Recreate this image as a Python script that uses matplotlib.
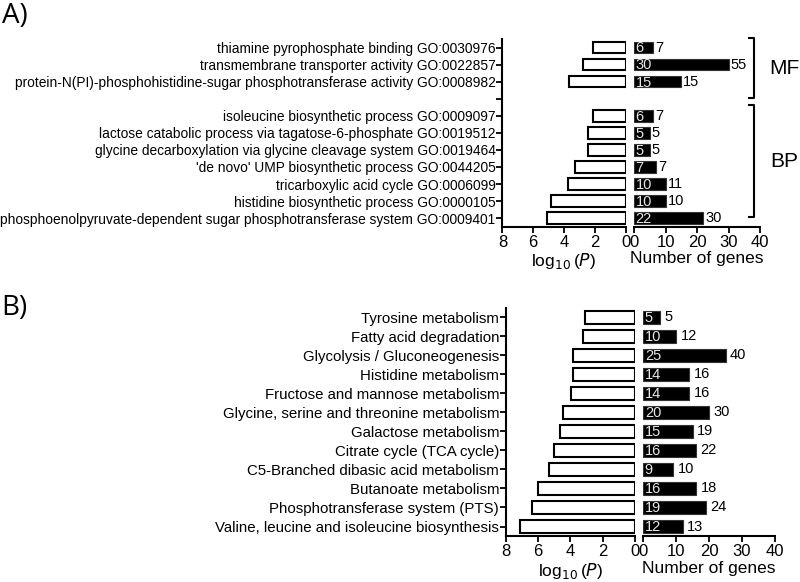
import matplotlib
matplotlib.use("Agg")
import matplotlib.pyplot as plt

plt.rcParams['font.family'] = ['Liberation Sans', 'DejaVu Sans']

# panel A, GO terms
mf_terms = ["thiamine pyrophosphate binding GO:0030976",
            "transmembrane transporter activity GO:0022857",
            "protein-N(PI)-phosphohistidine-sugar phosphotransferase activity GO:0008982"]
mf_logp = [2.1, 2.77, 3.68]
mf_hits = [6, 30, 15]
mf_total = [7, 55, 15]

bp_terms = ["isoleucine biosynthetic process GO:0009097",
            "lactose catabolic process via tagatose-6-phosphate GO:0019512",
            "glycine decarboxylation via glycine cleavage system GO:0019464",
            "'de novo' UMP biosynthetic process GO:0044205",
            "tricarboxylic acid cycle GO:0006099",
            "histidine biosynthetic process GO:0000105",
            "phosphoenolpyruvate-dependent sugar phosphotransferase system GO:0009401"]
bp_logp = [2.1, 2.42, 2.42, 3.3, 3.77, 4.85, 5.1]
bp_hits = [6, 5, 5, 7, 10, 10, 22]
bp_total = [7, 5, 5, 7, 11, 10, 30]

# panel B, KEGG pathways
kegg_terms = ["Tyrosine metabolism", "Fatty acid degradation",
              "Glycolysis / Gluconeogenesis", "Histidine metabolism",
              "Fructose and mannose metabolism",
              "Glycine, serine and threonine metabolism",
              "Galactose metabolism", "Citrate cycle (TCA cycle)",
              "C5-Branched dibasic acid metabolism", "Butanoate metabolism",
              "Phosphotransferase system (PTS)",
              "Valine, leucine and isoleucine biosynthesis"]
kegg_logp = [3.1, 3.24, 3.82, 3.86, 3.97, 4.48, 4.63, 5.0, 5.31, 6.01, 6.38, 7.13]
kegg_hits = [5, 10, 25, 14, 14, 20, 15, 16, 9, 16, 19, 12]
kegg_total = [5, 12, 40, 16, 16, 30, 19, 22, 10, 18, 24, 13]


def style(ax, left_spine, ysize):
    for s in ["top", "right"]:
        ax.spines[s].set_visible(False)
    ax.spines["left"].set_visible(left_spine)
    for s in ["left", "bottom"]:
        ax.spines[s].set_linewidth(1.5)
    ax.tick_params(axis="x", length=4, width=1.3, labelsize=12, pad=2)
    ax.tick_params(axis="y", length=4, width=1.3, labelsize=ysize, pad=1)


def draw_pair(axl, axr, pos, ticks, ticklabels, logp, hits, total, off, ysize):
    n = len(ticks)
    axl.barh(pos, logp, height=0.68, color="white", edgecolor="black", linewidth=1.5)
    axl.set_xlim(8, 0)
    axl.set_ylim(n - 0.5, -0.5)
    axl.set_xticks([8, 6, 4, 2, 0])
    axl.set_yticks(ticks)
    axl.set_yticklabels(ticklabels)
    axl.set_xlabel(r"log$_{10}$$\,$($\it{P}$)", fontsize=12.5, labelpad=1)
    style(axl, True, ysize)

    axr.barh(pos, hits, height=0.68, color="black", edgecolor="#333333", linewidth=0.8)
    axr.set_xlim(0, 40)
    axr.set_ylim(n - 0.5, -0.5)
    axr.set_xticks([0, 10, 20, 30, 40])
    axr.set_yticks([])
    axr.set_xlabel("Number of genes", fontsize=12.5, labelpad=1)
    style(axr, False, ysize)
    for y, h, t in zip(pos, hits, total):
        axr.text(0.5, y + 0.05, str(h), color="#e6e6e6", fontsize=10.5,
                 va="center", ha="left")
        axr.text(h + off, y, str(t), color="black", fontsize=10.5,
                 va="center", ha="left")


fig = plt.figure(figsize=(8, 5.82), dpi=100)

# panel A
a_terms = mf_terms + [""] + bp_terms
a_pos = list(range(len(mf_terms))) + list(range(len(mf_terms) + 1, len(a_terms)))
axl = fig.add_axes([0.628, 0.6105, 0.154, 0.3225])
axr = fig.add_axes([0.7925, 0.6105, 0.1575, 0.3225])
draw_pair(axl, axr, a_pos, list(range(len(a_terms))), a_terms,
          mf_logp + bp_logp, mf_hits + bp_hits, mf_total + bp_total, 0.6, 9.9)

# brackets for MF / BP
bx = 38
n_mf = len(mf_terms)
for top, bot, name in [(-0.58, n_mf - 0.02, "MF"),
                       (n_mf + 0.35, len(a_terms) - 1.06, "BP")]:
    axr.plot([bx - 1.4, bx, bx, bx - 1.4], [top, top, bot, bot],
             color="black", lw=1.5, clip_on=False)
    axr.text(bx + 9.8, (top + bot) / 2 + 0.05, name, fontsize=15,
             ha="center", va="center")

# panel B
b_pos = list(range(len(kegg_terms)))
bxl = fig.add_axes([0.6325, 0.079, 0.161, 0.3923])
bxr = fig.add_axes([0.804, 0.079, 0.1646, 0.3923])
draw_pair(bxl, bxr, b_pos, b_pos, kegg_terms,
          kegg_logp, kegg_hits, kegg_total, 1.4, 10.85)

fig.text(0.002, 0.997, "A)", fontsize=20, family="Open Sans", va="top", ha="left")
fig.text(0.002, 0.495, "B)", fontsize=20, family="Open Sans", va="top", ha="left")

fig.savefig("out.png", dpi=100)
